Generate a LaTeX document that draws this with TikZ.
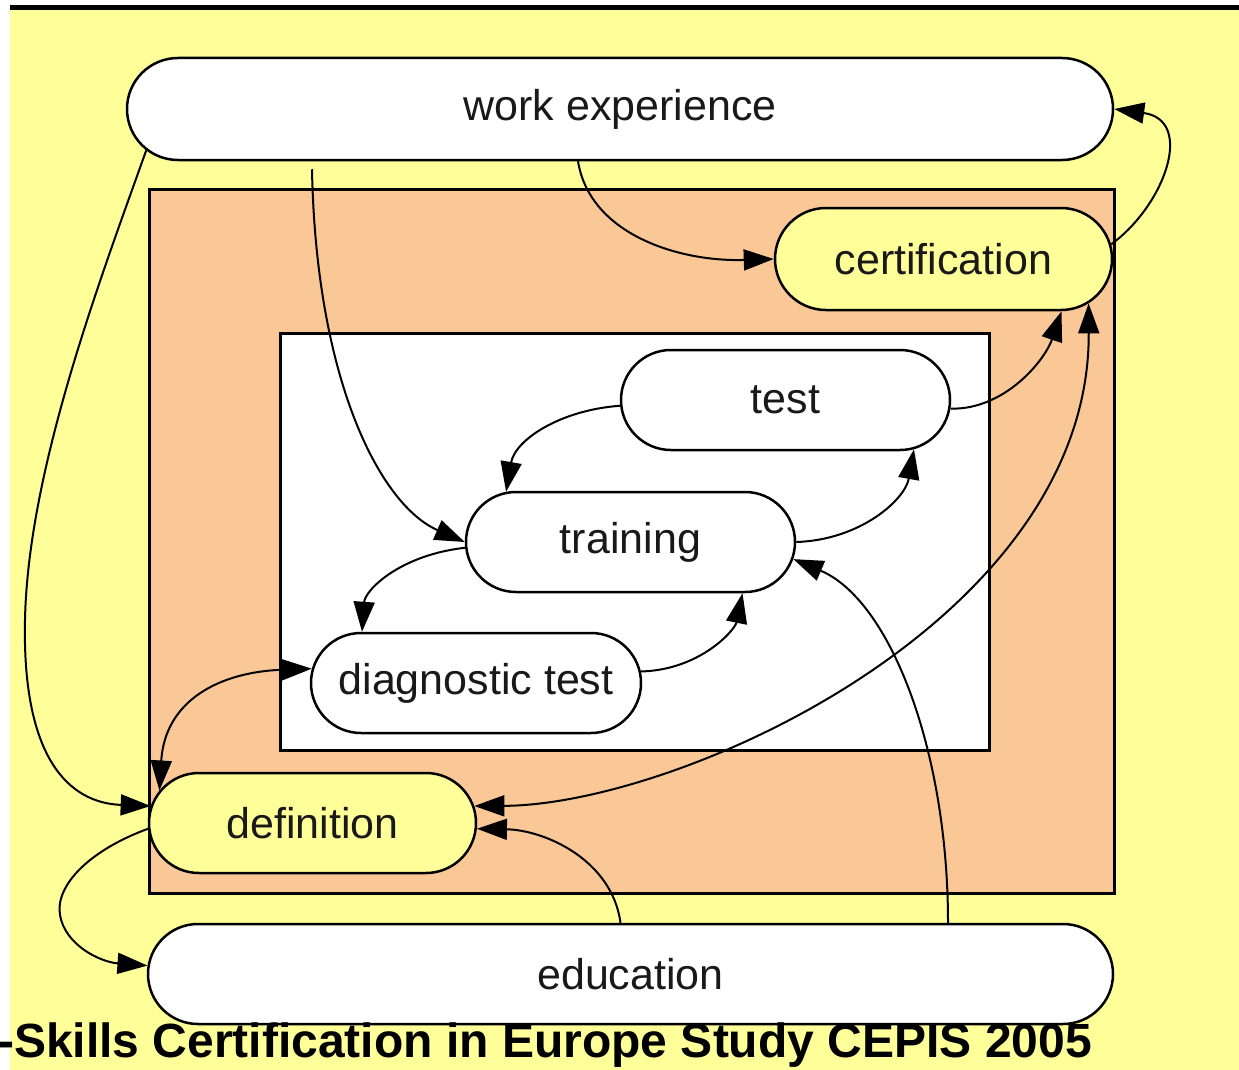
\documentclass[tikz,border=0pt]{standalone}
\usepackage{fontspec}
\newfontfamily\labfont{Liberation Sans}
\usetikzlibrary{shapes.misc,arrows.meta}
\definecolor{bgyellow}{RGB}{255,255,153}
\definecolor{clorange}{RGB}{250,200,150}
\definecolor{txt}{RGB}{25,25,25}
\tikzset{
  pill/.style={rounded rectangle, draw=black, line width=2.5pt, inner sep=0pt,
    font=\labfont\fontsize{43}{50}\selectfont, text=txt},
  whitepill/.style={pill, fill=white},
  yelpill/.style={pill, fill=bgyellow},
  cluster/.style={draw=black, line width=3pt},
  edge/.style={line width=2pt, -{Triangle[length=30pt,width=21pt]}},
  biedge/.style={line width=2pt, {Triangle[length=30pt,width=21pt]}-{Triangle[length=30pt,width=21pt]}},
}
\begin{document}
\begin{tikzpicture}[x=1pt,y=-1pt]
\useasboundingbox (0,0) rectangle (1239,1070);
% background
\fill[white] (0,0) rectangle (1239,1070);
\fill[bgyellow] (10,10) rectangle (1239,1070);
\fill[black] (10,5) rectangle (1239,10);
% clusters
\draw[cluster, fill=clorange] (149,189) rectangle (1114,893);
\draw[cluster, fill=white] (280,333) rectangle (989,750);
% nodes
\node[whitepill, minimum width=986pt, minimum height=102pt] (we) at (620,109) {work experience};
\node[yelpill, minimum width=337pt, minimum height=102pt] (cert) at (943.5,259) {certification};
\node[whitepill, minimum width=329pt, minimum height=100pt] (test) at (785.5,400) {test};
\node[whitepill, minimum width=329pt, minimum height=100pt] (train) at (630.5,542) {training};
\node[whitepill, minimum width=330pt, minimum height=100pt] (diag) at (476,683) {diagnostic test};
\node[yelpill, minimum width=327pt, minimum height=100pt] (def) at (312.5,823) {definition};
\node[whitepill, minimum width=965pt, minimum height=100pt] (edu) at (630.5,974) {education};
% edges
\draw[edge] (we.185.4) .. controls (100,280) and (28,470) .. (25,620)
   .. controls (22,760) and (70,803) .. (def.174);
\draw[edge] ([xshift=-308pt,yshift=-8pt]we.south) .. controls (316,380) and (380,505) .. (train.west);
\draw[edge] ([xshift=-42pt]we.south) .. controls (590,235) and (680,262) .. (cert.west);
\draw[edge] (cert.5) .. controls (1165,205) and (1195,120) .. (we.east);
\draw[edge] (test.-3) .. controls (1005,410) and (1045,360) .. ([xshift=118pt]cert.south);
\draw[biedge] (def.6) .. controls (680,805) and (1090,620) .. (cert.-17.6);
\draw[edge] ([xshift=-10pt]edu.north) .. controls (612,860) and (545,830) .. (def.-2);
\draw[edge] ([xshift=317.5pt]edu.north) .. controls (948,750) and (890,600) .. (train.-6);
\draw[edge] (test.182) .. controls (560,410) and (515,440) .. (train.158);
\draw[edge] (train.182) .. controls (400,555) and (365,590) .. ([xshift=-114pt]diag.north);
\draw[edge] (train.east) .. controls (860,540) and (905,500) .. (test.-21);
\draw[edge] (diag.4.5) .. controls (700,670) and (735,630) .. ([xshift=112pt]train.south);
\draw[biedge] (def.168.5) .. controls (165,700) and (220,672) .. (diag.175);
\draw[edge] (def.182) .. controls (90,850) and (55,885) .. (60,915)
   .. controls (65,945) and (100,962) .. (edu.179);
% caption
\node[anchor=base east, inner sep=0pt, font=\labfont\bfseries\fontsize{48}{50}\selectfont] (cap) at (1092,1057) {-Skills Certification in Europe Study CEPIS 2005};
\end{tikzpicture}
\end{document}
